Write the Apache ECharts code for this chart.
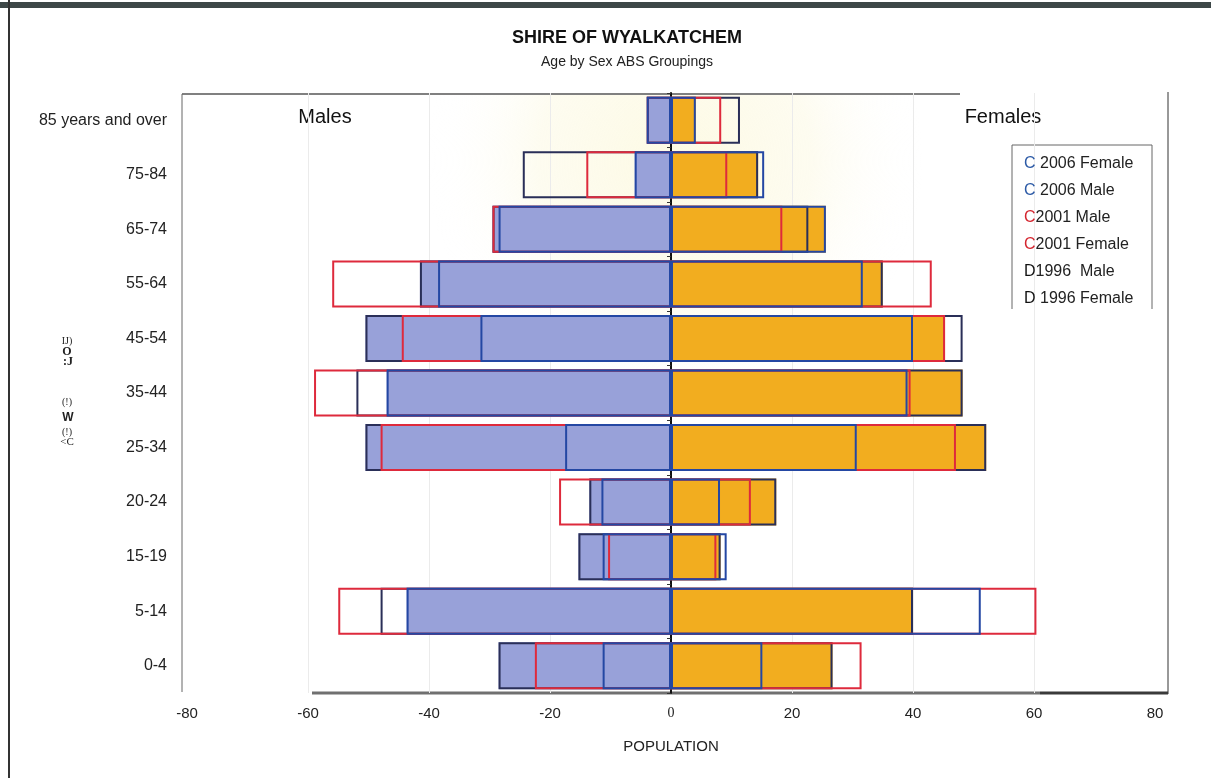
<!DOCTYPE html>
<html><head><meta charset="utf-8">
<script src="https://cdn.jsdelivr.net/npm/echarts@6/dist/echarts.min.js"></script>
<style>html,body{margin:0;padding:0;background:#fff}#c{width:1211px;height:778px}</style>
</head><body><div id="c"></div>
<script>
// Age groups, top to bottom
const ageGroups = ['85 years and over','75-84','65-74','55-64','45-54','35-44','25-34','20-24','15-19','5-14','0-4'];

// Male populations
const male1996 = [4, 24.5, 29.5, 41.5, 50.5, 52, 50.5, 13.5, 15.3, 48, 28.5];
const male2001 = [4, 14, 29.5, 56, 44.5, 59, 48, 18.5, 10.4, 55, 22.5];
const male2006 = [4, 6, 28.5, 38.5, 31.5, 47, 17.5, 11.5, 11.3, 43.7, 11.3];
const maleShaded = [4, 6, 29.5, 41.5, 50.5, 47, 50.5, 13.5, 15.3, 43.7, 28.5];

// Female populations
const female1996 = [11.4, 14.4, 22.7, 35, 48.2, 48.2, 52.1, 17.4, 8.2, 40, 26.7];
const female2001 = [8.3, 9.3, 18.4, 43.1, 45.3, 39.6, 47.1, 13.2, 7.5, 60.4, 31.5];
const female2006 = [4.1, 15.4, 25.6, 31.7, 40, 39.1, 30.7, 8.1, 9.2, 51.2, 15.1];
const femaleShaded = [4.1, 14.4, 25.6, 35, 45.3, 48.2, 52.1, 17.4, 8.2, 40, 26.7];

// X axis ticks
const xMin = -80, xMax = 80, xStep = 20;

// Legend entries as printed
const legendNames = ['2006 Female','2006 Male','2001 Male','2001 Female','1996 Male','1996 Female'];
const legendMarks = ['C','C','C','C','D','D'];
const legendRest  = [' 2006 Female',' 2006 Male','2001 Male','2001 Female','1996  Male',' 1996 Female'];
const legendMarkStyle = ['mb','mb','mr','mr','mk','mk'];

const C = {
  blueFill:'#98a1d9', orangeFill:'#f2ad1f',
  dark:'#2a2f58', blue:'#2447a3', red:'#de2a3c'
};

const neg = a => a.map(v => -v);
const base = {type:'bar', barWidth:47, barGap:'-100%', yAxisIndex:0, silent:true, animation:false};
const outline = (name, data, color) => Object.assign({}, base, {
  name, data, itemStyle:{color:'rgba(0,0,0,0)', borderColor:color, borderWidth:2}
});

const grid = '#ebebeb', none = 'rgba(0,0,0,0)';

const chart = echarts.init(document.getElementById('c'));
chart.setOption({
  animation:false,
  title:{
    text:'SHIRE OF WYALKATCHEM', subtext:'Age by Sex ABS Groupings',
    left:622, textAlign:'center', top:24, itemGap:8,
    textStyle:{fontFamily:'Liberation Sans', fontSize:18, fontWeight:'bold', color:'#111'},
    subtextStyle:{fontFamily:'Liberation Sans', fontSize:14, color:'#222'}
  },
  legend:{
    data:legendNames, orient:'vertical', left:1014, top:151, icon:'none',
    itemWidth:0, itemHeight:16, itemGap:11, selectedMode:false,
    formatter: n => { const i = legendNames.indexOf(n); return '{' + legendMarkStyle[i] + '|' + legendMarks[i] + '}{t|' + legendRest[i] + '}'; },
    textStyle:{
      fontFamily:'Liberation Sans', fontSize:16, color:'#222',
      rich:{
        mb:{color:'#2c5aa6', fontSize:16, fontFamily:'Liberation Sans'},
        mr:{color:'#d4252f', fontSize:16, fontFamily:'Liberation Sans'},
        mk:{color:'#111', fontSize:16, fontFamily:'Liberation Sans'},
        t:{color:'#222', fontSize:16, fontFamily:'Liberation Sans'}
      }
    }
  },
  grid:{left:187, right:56, top:93, bottom:85},
  xAxis:{
    type:'value', min:xMin, max:xMax, interval:xStep,
    axisLine:{show:false}, axisTick:{show:false},
    splitLine:{lineStyle:{color:[none, grid, grid, grid, grid, grid, grid, grid, none]}},
    axisLabel:{
      fontFamily:'Liberation Sans', fontSize:15, color:'#222', margin:13,
      formatter: v => v === 0 ? '{z|0}' : String(v),
      rich:{z:{fontFamily:'Liberation Serif', fontSize:14, color:'#222'}}
    },
    name:'POPULATION', nameLocation:'middle', nameGap:46,
    nameTextStyle:{fontFamily:'Liberation Sans', fontSize:15, color:'#222'}
  },
  yAxis:[
    {type:'category', data:ageGroups, inverse:true,
     axisLine:{onZero:true, lineStyle:{color:'#111', width:2}},
     axisTick:{show:true, length:4, lineStyle:{color:'#333'}},
     axisLabel:{show:false}, splitLine:{show:false}},
    {type:'category', data:ageGroups, inverse:true, position:'left',
     axisLine:{show:false, onZero:false}, axisTick:{show:false}, splitLine:{show:false},
     axisLabel:{fontFamily:'Liberation Sans', fontSize:16, color:'#222', margin:20}}
  ],
  series:[
    Object.assign({}, base, {name:'Male shaded', data:neg(maleShaded), itemStyle:{color:C.blueFill}}),
    Object.assign({}, base, {name:'Female shaded', data:femaleShaded, itemStyle:{color:C.orangeFill}}),
    outline('1996 Male', neg(male1996), C.dark),
    outline('2001 Male', neg(male2001), C.red),
    outline('2006 Male', neg(male2006), C.blue),
    outline('1996 Female', female1996, C.dark),
    outline('2001 Female', female2001, C.red),
    outline('2006 Female', female2006, C.blue)
  ],
  graphic:[
    {type:'rect', z:-1, shape:{x:330, y:95, width:690, height:330},
     style:{fill:{type:'radial', x:0.5, y:0.2, r:0.75, colorStops:[
       {offset:0, color:'rgba(253,250,228,1)'},{offset:0.55, color:'rgba(253,251,236,0.8)'},{offset:1, color:'rgba(255,255,255,0)'}]}}},
    {type:'rect', shape:{x:0, y:2, width:1211, height:6}, style:{fill:'#3d4747'}},
    {type:'line', shape:{x1:9, y1:0, x2:9, y2:778}, style:{stroke:'#333', lineWidth:2}},
    {type:'line', shape:{x1:182, y1:94, x2:960, y2:94}, style:{stroke:'#808080', lineWidth:2}},
    {type:'line', shape:{x1:182, y1:94, x2:182, y2:692}, style:{stroke:'#666', lineWidth:1}},
    {type:'line', shape:{x1:1168, y1:92, x2:1168, y2:694}, style:{stroke:'#333', lineWidth:1}},
    {type:'line', shape:{x1:312, y1:693, x2:1040, y2:693}, style:{stroke:'#707070', lineWidth:3}},
    {type:'line', shape:{x1:1040, y1:693, x2:1168, y2:693}, style:{stroke:'#3a3a3a', lineWidth:3}},
    {type:'polyline', shape:{points:[[1012,309],[1012,145],[1152,145],[1152,309]]}, style:{stroke:'#666', lineWidth:1, fill:null}},
    {type:'text', x:325, y:117, style:{text:'Males', fontFamily:'Liberation Sans', fontSize:20, fill:'#111', align:'center', verticalAlign:'middle'}},
    {type:'text', x:1003, y:117, style:{text:'Females', fontFamily:'Liberation Sans', fontSize:20, fill:'#111', align:'center', verticalAlign:'middle'}},
    {type:'text', x:67, y:341, style:{text:'IJ)', fontFamily:'Liberation Serif', fontSize:10, fill:'#222', align:'center', verticalAlign:'middle'}},
    {type:'text', x:67, y:352, style:{text:'O', fontFamily:'Liberation Serif', fontSize:12, fontWeight:'bold', fill:'#222', align:'center', verticalAlign:'middle'}},
    {type:'text', x:68, y:362, style:{text:':J', fontFamily:'Liberation Serif', fontSize:12, fontWeight:'bold', fill:'#222', align:'center', verticalAlign:'middle'}},
    {type:'text', x:67, y:402, style:{text:'(!)', fontFamily:'Liberation Serif', fontSize:10, fill:'#222', align:'center', verticalAlign:'middle'}},
    {type:'text', x:68, y:418, style:{text:'W', fontFamily:'Liberation Sans', fontSize:12, fontWeight:'bold', fill:'#222', align:'center', verticalAlign:'middle'}},
    {type:'text', x:67, y:432, style:{text:'(!)', fontFamily:'Liberation Serif', fontSize:10, fill:'#222', align:'center', verticalAlign:'middle'}},
    {type:'text', x:67, y:442, style:{text:'<C', fontFamily:'Liberation Serif', fontSize:11, fill:'#222', align:'center', verticalAlign:'middle'}}
  ]
});
</script></body></html>
